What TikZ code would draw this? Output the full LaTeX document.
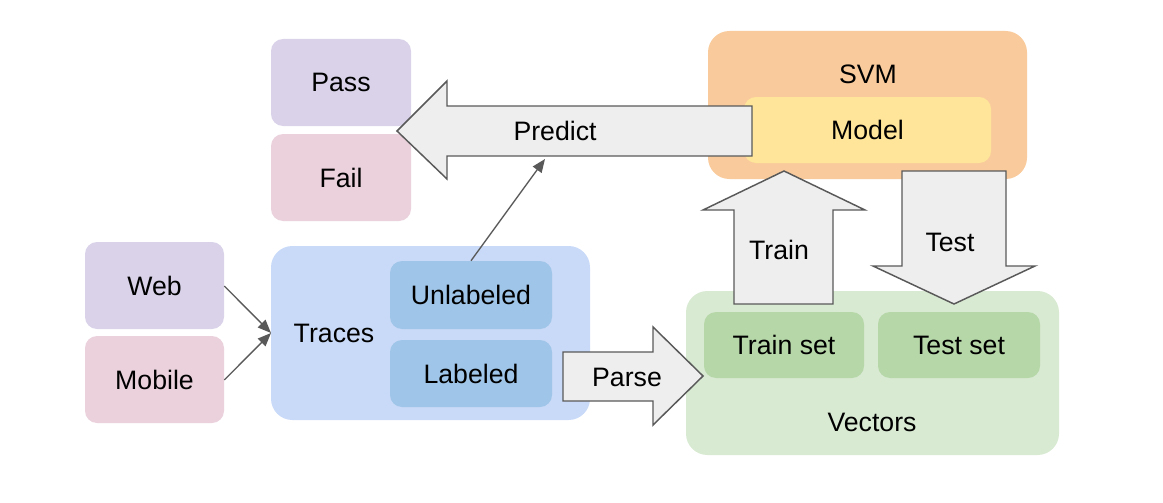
\documentclass[tikz,border=0pt]{standalone}
\usepackage{fontspec}
\setmainfont{Liberation Sans}
\usetikzlibrary{fit,arrows.meta}
\definecolor{lav}{HTML}{D9D2E9}
\definecolor{pinkish}{HTML}{EAD1DC}
\definecolor{lblue}{HTML}{C9DAF8}
\definecolor{mblue}{HTML}{9FC5E8}
\definecolor{lorange}{HTML}{F9CB9C}
\definecolor{lyellow}{HTML}{FFE599}
\definecolor{lgreen}{HTML}{D9EAD3}
\definecolor{mgreen}{HTML}{B6D7A8}
\definecolor{arrowgrey}{HTML}{595959}
\definecolor{arrowfill}{HTML}{EEEEEE}
\begin{document}
\begin{tikzpicture}[x=0.75pt,y=-0.75pt,
  txt/.style={font=\fontsize{20}{24}\selectfont, text=black},
  box/.style={draw=none, rounded corners=9pt, inner sep=0pt, txt},
  big/.style={draw=none, rounded corners=16pt, inner sep=0pt},
  lbl/.style={txt, inner sep=0pt},
  blockarrow/.style={draw=arrowgrey, fill=arrowfill, line width=1.1pt, line join=miter},
  conn/.style={draw=arrowgrey, line width=1pt, -{Triangle[length=10pt,width=8pt]}}]
\useasboundingbox (0,0) rectangle (1163,503);

% containers
\node[big, fill=lblue, fit={(271,246)(590,420)}] (traces) {};
\node[big, fill=lorange, fit={(708,31)(1027,179)}] (svm) {};
\node[big, fill=lgreen, fit={(686,291)(1059,455)}] (vectors) {};
\node[lbl] (tracesT) at (334,333) {Traces};
\node[lbl] (svmT) at (868,74) {SVM};
\node[lbl] (vectorsT) at (872,422) {Vectors};

% boxes
\node[box, fill=lav, fit={(271,39)(411,126)}] (pass) {};
\node[lbl] at (pass.center) {Pass};
\node[box, fill=pinkish, fit={(271,134)(411,221)}] (fail) {};
\node[lbl] at (fail.center) {Fail};
\node[box, fill=lav, fit={(85,242)(224,329)}] (web) {};
\node[lbl] at (web.center) {Web};
\node[box, fill=pinkish, fit={(85,336)(224,423)}] (mobile) {};
\node[lbl] at (mobile.center) {Mobile};
\node[box, fill=mblue, fit={(390,261)(552,329)}] (unlab) {};
\node[lbl] at (unlab.center) {Unlabeled};
\node[box, fill=mblue, fit={(390,340)(552,407)}] (lab) {};
\node[lbl] at (lab.center) {Labeled};
\node[box, fill=lyellow, fit={(744,97)(991,163)}] (model) {};
\node[lbl] at (model.center) {Model};
\node[box, fill=mgreen, fit={(704,312)(864,378)}] (trainset) {};
\node[lbl] at (trainset.center) {Train set};
\node[box, fill=mgreen, fit={(878,312)(1040,378)}] (testset) {};
\node[lbl] at (testset.center) {Test set};

% block arrows
\draw[blockarrow] (752,106) -- (447,106) -- (447,81) -- (397,131) -- (447,179) -- (447,156) -- (752,156) -- cycle;
\node[lbl] (predict) at (555,131) {Predict};

\draw[blockarrow] (734,304) -- (734,210) -- (703,210) -- (784,171) -- (865,210) -- (833,210) -- (833,304) -- cycle;
\node[lbl] (train) at (779,250) {Train};

\draw[blockarrow] (902,171) -- (1006,171) -- (1006,266) -- (1035,266) -- (954,304) -- (873,266) -- (902,266) -- cycle;
\node[lbl] (test) at (950,242) {Test};

\draw[blockarrow] (563,352) -- (653,352) -- (653,327) -- (703,376) -- (653,425) -- (653,401) -- (563,401) -- cycle;
\node[lbl] (parse) at (627,377) {Parse};

% connectors
\coordinate (pin) at (545,159);
\coordinate (tin) at (271,333);
\draw[conn] (web.east |- 0,286) -- (tin);
\draw[conn] (mobile.east |- 0,380) -- (tin);
\draw[conn] (unlab.north) -- (pin);
\end{tikzpicture}
\end{document}
